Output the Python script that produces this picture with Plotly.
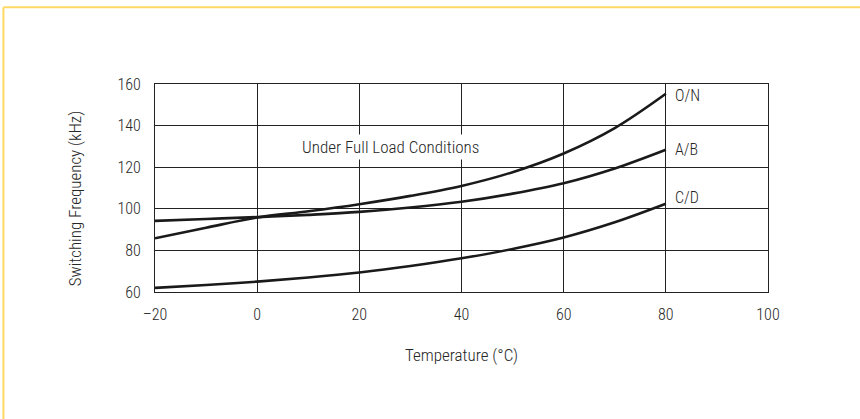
import plotly.graph_objects as go

temps = [-20, -10, 0, 10, 20, 30, 40, 50, 60, 70, 80]
on_vals = [85.8, 90.9, 95.8, 98.8, 102.2, 106.2, 111.0, 117.6, 126.6, 138.8, 155.3]
ab_vals = [94.2, 95.1, 96.0, 97.1, 98.5, 100.6, 103.4, 107.3, 112.3, 119.4, 128.4]
cd_vals = [62.0, 63.4, 65.0, 67.0, 69.4, 72.5, 76.2, 80.7, 86.2, 93.5, 102.4]
series_names = ["O/N", "A/B", "C/D"]
x_ticks = [-20, 0, 20, 40, 60, 80, 100]
x_tick_text = ["\u201320", "0", "20", "40", "60", "80", "100"]
y_ticks = [60, 80, 100, 120, 140, 160]

FONT = "Roboto Condensed, Roboto, sans-serif"
TXT = "#262626"

def f(size):
    return dict(family=FONT, size=size, color=TXT, weight=300)

fig = go.Figure()
for name, vals in zip(series_names, [on_vals, ab_vals, cd_vals]):
    fig.add_trace(go.Scatter(
        x=temps, y=vals, mode="lines", name=name,
        line=dict(color="#1a1a1a", width=2.6, shape="spline", smoothing=1.0),
        showlegend=False, hoverinfo="skip"))
    fig.add_annotation(x=80, y=vals[-1], text=name, showarrow=False,
                       xanchor="left", yanchor="middle", xshift=7,
                       yshift={"O/N": -2, "A/B": 0, "C/D": 6}[name],
                       font=f(16))

fig.add_annotation(x=26.1, y=129.8, text="Under Full Load Conditions", showarrow=False,
                   xanchor="center", yanchor="middle", bgcolor="white",
                   borderpad=2, font=f(17))

# y-axis title placed as an annotation (centred slightly below plot middle, as in the original)
fig.add_annotation(xref="paper", yref="paper", x=(75 - 155) / 612.7, y=(292 - 198) / 208.5,
                   text="Switching Frequency (kHz)", textangle=-90, showarrow=False,
                   xanchor="center", yanchor="middle", font=f(17))

# Yellow frame lines (top and left)
fig.add_shape(type="line", xref="paper", yref="paper",
              x0=(3.5 - 155) / 612.7, x1=(870 - 155) / 612.7,
              y0=(292 - 6.5) / 208.5, y1=(292 - 6.5) / 208.5,
              line=dict(color="#FFD966", width=2))
fig.add_shape(type="line", xref="paper", yref="paper",
              x0=(3.5 - 155) / 612.7, x1=(3.5 - 155) / 612.7,
              y0=(292 - 6.5) / 208.5, y1=(292 - 430) / 208.5,
              line=dict(color="#FFD966", width=2))

fig.update_layout(
    width=860, height=419,
    margin=dict(l=155, r=92, t=84, b=127),
    paper_bgcolor="white", plot_bgcolor="white",
    font=f(16),
    xaxis=dict(range=[-20, 100], tickvals=x_ticks, ticktext=x_tick_text,
               showgrid=True, gridcolor="#222", gridwidth=1,
               showline=True, linecolor="#222", linewidth=1, mirror=True,
               zeroline=False, ticks="", ticklen=0, ticklabelstandoff=8,
               title=dict(text="Temperature (\u00b0C)", standoff=25, font=f(17)),
               tickfont=f(16)),
    yaxis=dict(range=[60, 160], tickvals=y_ticks,
               showgrid=True, gridcolor="#222", gridwidth=1,
               showline=True, linecolor="#222", linewidth=1, mirror=True,
               zeroline=False, ticks="", ticklen=0, ticklabelstandoff=10,
               tickfont=f(16)),
)

fig.write_html("out.html", config={"displayModeBar": False},
               post_script="document.body.style.margin='0';")
